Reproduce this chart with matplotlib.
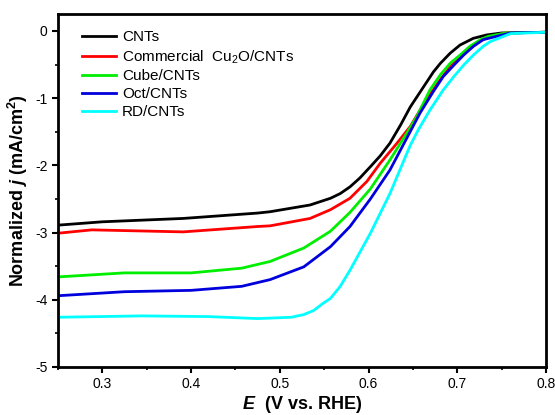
import numpy as np
import matplotlib
matplotlib.use("Agg")
import matplotlib.pyplot as plt
from matplotlib.ticker import MultipleLocator

plt.rcParams['font.family'] = ['Liberation Sans', 'DejaVu Sans']
plt.rcParams['mathtext.fontset'] = 'custom'
plt.rcParams['mathtext.rm'] = 'Liberation Sans'
plt.rcParams['mathtext.it'] = 'Liberation Sans:italic:bold'
plt.rcParams['mathtext.bf'] = 'Liberation Sans:bold'

# potential (V vs RHE) and normalized current density (mA/cm2)
E_cnt = [0.25, 0.30, 0.391, 0.475, 0.489, 0.534, 0.557, 0.568, 0.579, 0.590, 0.602,
         0.613, 0.624, 0.636, 0.647, 0.662, 0.673, 0.681, 0.692, 0.703, 0.718, 0.733,
         0.75, 0.80]
j_cnt = [-2.89, -2.84, -2.79, -2.71, -2.69, -2.59, -2.49, -2.42, -2.32, -2.19, -2.02,
         -1.86, -1.67, -1.40, -1.13, -0.83, -0.61, -0.48, -0.33, -0.21, -0.11, -0.06,
         -0.03, -0.02]

E_cu2o = [0.25, 0.288, 0.391, 0.475, 0.489, 0.534, 0.557, 0.579, 0.598, 0.613, 0.632,
          0.647, 0.657, 0.669, 0.681, 0.692, 0.703, 0.714, 0.726, 0.735, 0.755, 0.80]
j_cu2o = [-3.01, -2.96, -2.99, -2.91, -2.90, -2.79, -2.66, -2.49, -2.24, -1.97, -1.67,
          -1.42, -1.20, -0.95, -0.72, -0.53, -0.39, -0.26, -0.15, -0.09, -0.03, -0.02]

E_cube = [0.25, 0.325, 0.400, 0.457, 0.489, 0.527, 0.557, 0.579, 0.602, 0.624, 0.644,
          0.654, 0.669, 0.681, 0.692, 0.703, 0.714, 0.726, 0.735, 0.755, 0.80]
j_cube = [-3.66, -3.60, -3.60, -3.53, -3.43, -3.23, -2.98, -2.70, -2.35, -1.92, -1.50,
          -1.28, -0.88, -0.65, -0.48, -0.36, -0.23, -0.13, -0.08, -0.03, -0.02]

E_oct = [0.25, 0.325, 0.400, 0.457, 0.489, 0.527, 0.557, 0.579, 0.602, 0.624, 0.646,
         0.658, 0.673, 0.684, 0.696, 0.707, 0.718, 0.729, 0.76, 0.80]
j_oct = [-3.94, -3.88, -3.86, -3.80, -3.70, -3.51, -3.21, -2.91, -2.50, -2.07, -1.52,
         -1.22, -0.90, -0.68, -0.51, -0.36, -0.23, -0.13, -0.03, -0.02]

E_rd = [0.25, 0.344, 0.419, 0.475, 0.513, 0.527, 0.538, 0.549, 0.557, 0.568, 0.579,
        0.602, 0.624, 0.647, 0.656, 0.669, 0.684, 0.696, 0.707, 0.718, 0.729, 0.737,
        0.76, 0.80]
j_rd = [-4.26, -4.24, -4.25, -4.28, -4.26, -4.22, -4.16, -4.05, -3.98, -3.80, -3.56,
        -3.01, -2.42, -1.70, -1.47, -1.18, -0.88, -0.68, -0.51, -0.36, -0.23, -0.16,
        -0.04, -0.02]

fig = plt.figure(figsize=(5.55, 4.15), dpi=100)
ax = fig.add_axes([0.1045, 0.1157, 0.8795, 0.8503])

ax.plot(E_cnt, j_cnt, c="black", lw=2, label="CNTs")
ax.plot(E_cu2o, j_cu2o, c="red", lw=2, label="Commercial  Cu$_2$O/CNTs")
ax.plot(E_cube, j_cube, c="#00ee00", lw=2, label="Cube/CNTs")
ax.plot(E_oct, j_oct, c="#0000dd", lw=2, label="Oct/CNTs")
ax.plot(E_rd, j_rd, c="cyan", lw=2, label="RD/CNTs")

ax.set_xlim(0.25, 0.8)
ax.set_ylim(-5, 0.25)
ax.xaxis.set_minor_locator(MultipleLocator(0.05))
ax.yaxis.set_minor_locator(MultipleLocator(0.5))
ax.set_xticks([0.3, 0.4, 0.5, 0.6, 0.7, 0.8])
ax.set_xticklabels(["0.3", "0.4", "0.5", "0.6", "0.7", "0.8"])
ax.set_yticks([0, -1, -2, -3, -4, -5])
ax.set_yticklabels(["0", "-1", "-2", "-3", "-4", "-5"])
ax.tick_params(which="major", direction="out", length=4, width=1.5, labelsize=10)
ax.tick_params(which="minor", direction="out", length=2.5, width=1.2)
for s in ax.spines.values():
    s.set_linewidth(2)

ax.set_xlabel("$\\it{E}$  (V vs. RHE)", fontsize=13, fontweight="bold", labelpad=2)
ax.set_ylabel("Normalized $\\it{j}$ (mA/cm$^\\mathbf{2}$)", fontsize=13, fontweight="bold", labelpad=4)

ax.legend(loc="upper left", bbox_to_anchor=(0.037, 0.971), borderaxespad=0,
          frameon=False, fontsize=11, handlelength=2.2,
          handletextpad=0.4, labelspacing=0.25)

fig.savefig("out.png", dpi=100)
